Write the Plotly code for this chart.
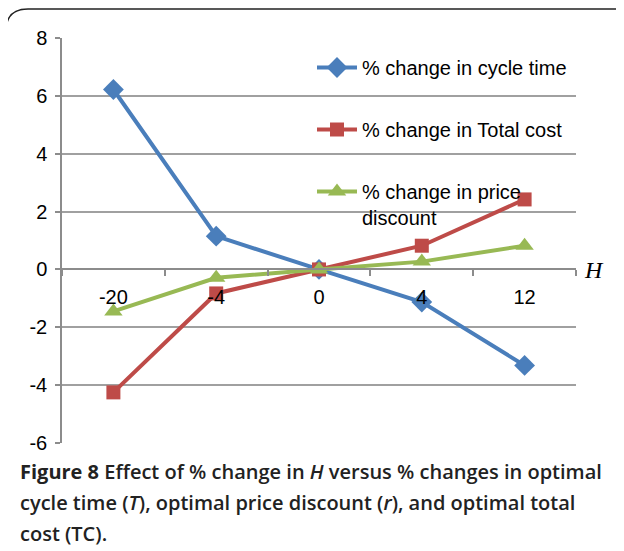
import plotly.graph_objects as go

categories = ["-20", "-4", "0", "4", "12"]
cycle_time = [6.22, 1.15, 0.0, -1.13, -3.32]
total_cost = [-4.25, -0.83, 0.0, 0.82, 2.42]
price_discount = [-1.45, -0.29, 0.0, 0.27, 0.82]
y_ticks = [-6, -4, -2, 0, 2, 4, 6, 8]
y_ticktext = ["-6", "-4", "-2", "0", "2", "4", "6", "8"]

names = ["% change in cycle time", "% change in Total cost", "% change in price<br>discount"]
colors = ["#4a7ebb", "#be4b48", "#98b954"]
symbols = ["diamond", "square", "triangle-up"]
msizes = [16, 14, 16]
series = [cycle_time, total_cost, price_discount]

OFF = 8  # page body margin
W, H = 624 - OFF, 551 - OFF
L, T = 62 - OFF, 38 - OFF
R = W - (576 - OFF)
B = H - (443 - OFF)
pw, ph = W - L - R, H - T - B

def px(x):
    return (x - OFF - L) / pw

def py(y):
    return (H - B - (y - OFF)) / ph

fig = go.Figure()
for i, (nm, c, s, ms, vals) in enumerate(zip(names, colors, symbols, msizes, series)):
    fig.add_trace(go.Scatter(
        x=categories, y=vals, name=nm, mode="lines+markers",
        line=dict(color=c, width=4),
        marker=dict(symbol=s, size=ms, color=c),
        legendgroup=f"g{i}",
    ))

zero_pos = (0 - (-6)) / 14

fig.update_layout(
    width=W, height=H,
    margin=dict(l=L, r=R, t=T, b=B),
    paper_bgcolor="white", plot_bgcolor="white",
    font=dict(family="Liberation Sans, Arial, sans-serif", size=20, color="black"),
    xaxis=dict(
        type="category", anchor="free", position=zero_pos,
        showline=True, linecolor="#8c8c8c", linewidth=1.5,
        ticks="outside", ticklen=6, tickcolor="#8c8c8c", tickwidth=1.5,
        tickson="boundaries", showgrid=False, zeroline=False,
        tickfont=dict(size=20), range=[-0.5, 4.5], ticklabelstandoff=10,
    ),
    yaxis=dict(
        range=[-6, 8], tickvals=y_ticks, ticktext=y_ticktext,
        showline=True, linecolor="#8c8c8c", linewidth=1.5,
        ticks="outside", ticklen=5, tickcolor="#8c8c8c", tickwidth=1.5,
        showgrid=True, gridcolor="#a0a0a0", gridwidth=1.5, zeroline=False,
        tickfont=dict(size=20), ticklabelstandoff=4,
    ),
    legend=dict(
        x=px(312), y=py(48), xanchor="left", yanchor="top",
        bgcolor="rgba(0,0,0,0)", traceorder="grouped", tracegroupgap=33,
        valign="top", font=dict(size=20), itemwidth=40,
    ),
    showlegend=True,
)

# H label
fig.add_annotation(
    x=px(594), y=py(270), xref="paper", yref="paper", text="<i>H</i>",
    showarrow=False, xanchor="center", yanchor="middle",
    font=dict(family="Liberation Serif, Times New Roman, serif", size=24, color="black"),
)

# caption, one annotation per line
cap_lines = [
    "<b>Figure 8</b> Effect of % change in <i>H</i> versus % changes in optimal",
    "cycle time (<i>T</i>), optimal price discount (<i>r</i>), and optimal total",
    "cost (TC).",
]
cap_y = [471, 502, 533]
for txt, yy in zip(cap_lines, cap_y):
    fig.add_annotation(
        x=px(18), y=py(yy), xref="paper", yref="paper", text=txt,
        showarrow=False, xanchor="left", yanchor="middle", align="left",
        font=dict(family="Open Sans, Noto Sans, sans-serif", size=20, color="#222222", weight=600),
    )

# border with rounded corner
r = 22
path = (f"M {px(6)},{py(570)} L {px(6)},{py(9 + r)} "
        f"Q {px(6)},{py(9)} {px(6 + r)},{py(9)} L {px(650)},{py(9)}")
fig.add_shape(type="path", path=path, xref="paper", yref="paper",
              line=dict(color="#222222", width=1.5))

fig.write_html("out.html")
